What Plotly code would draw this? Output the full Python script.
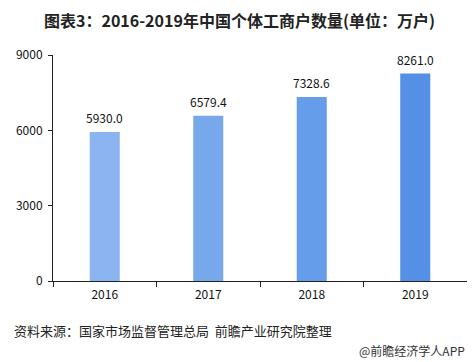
import plotly.graph_objects as go

years = ["2016", "2017", "2018", "2019"]
values = [5930.0, 6579.4, 7328.6, 8261.0]
bar_colors = ["#8BB4F0", "#78A8EC", "#669DEA", "#5390E6"]
y_ticks = [0, 3000, 6000, 9000]

FONT = "Noto Sans CJK SC, Liberation Sans, sans-serif"

fig = go.Figure()
fig.add_trace(go.Bar(
    x=years, y=values,
    marker=dict(color=bar_colors, line=dict(width=0)),
    width=0.29,
    hoverinfo="skip",
))

annotations = []
for i, v in enumerate(values):
    annotations.append(dict(
        x=i, y=v, xref="x", yref="y", text=f"{v:.1f}",
        showarrow=False, xanchor="center", yanchor="bottom", yshift=4,
        font=dict(family=FONT, size=12, color="#111111"),
    ))

annotations += [
    dict(text="<b>图表3：2016-2019年中国个体工商户数量(单位：万户)</b>",
         xref="paper", yref="paper", x=0.5, y=1, xanchor="center", yanchor="middle",
         xshift=-21, yshift=35, showarrow=False,
         font=dict(family=FONT, size=16, color="#222222")),
    dict(text="资料来源：国家市场监督管理总局  前瞻产业研究院整理",
         xref="paper", yref="paper", x=0, y=0, xanchor="left", yanchor="middle",
         xshift=-41, yshift=-49, showarrow=False,
         font=dict(family=FONT, size=13, color="#222222")),
    dict(text="@前瞻经济学人APP",
         xref="paper", yref="paper", x=1, y=0, xanchor="right", yanchor="middle",
         xshift=0, yshift=-69, showarrow=False,
         font=dict(family=FONT, size=12, color="#333333")),
]

fig.update_layout(
    width=467, height=354,
    margin=dict(l=41, r=8, t=47, b=81),
    paper_bgcolor="white", plot_bgcolor="white",
    showlegend=False,
    font=dict(family=FONT, size=12, color="#111111"),
    xaxis=dict(
        type="category", categoryorder="array", categoryarray=years,
        range=[-0.5, 3.5],
        showline=True, linecolor="#222222", linewidth=1,
        ticks="outside", tickson="boundaries", ticklen=5, tickcolor="#222222",
        ticklabelstandoff=3,
        tickfont=dict(family=FONT, size=12, color="#111111"),
        showgrid=False, zeroline=False,
    ),
    yaxis=dict(
        range=[0, 9000], tickvals=y_ticks,
        showline=True, linecolor="#222222", linewidth=1,
        ticks="outside", ticklen=4, tickcolor="#222222",
        ticklabelstandoff=3,
        tickfont=dict(family=FONT, size=12, color="#111111"),
        showgrid=False, zeroline=False,
    ),
    annotations=annotations,
)

fig.write_html("out.html")
